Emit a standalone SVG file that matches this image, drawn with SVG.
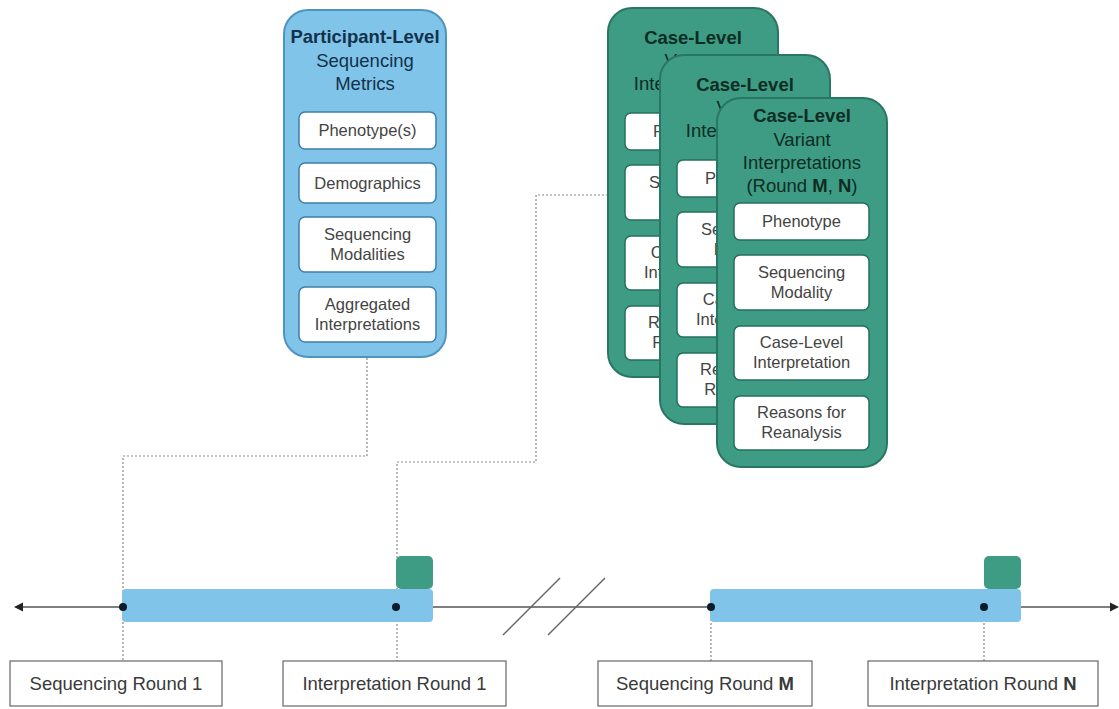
<svg xmlns="http://www.w3.org/2000/svg" width="1119" height="709" viewBox="0 0 1119 709">
  <defs>
    <style>
      .bg { fill: #ffffff; }
      .blueBox { fill: #80c4ea; stroke: #4f94bf; stroke-width: 2; }
      .greenBox { fill: #3d9c83; stroke: #2a7664; stroke-width: 2; }
      .blueItem { fill: #ffffff; stroke: #3f7fa8; stroke-width: 1.5; }
      .greenItem { fill: #ffffff; stroke: #25705d; stroke-width: 1.5; }
      .label { fill: #ffffff; stroke: #666666; stroke-width: 1.2; }
      .bar { fill: #80c4ea; }
      .chip { fill: #3d9c83; }
      .axis { stroke: #555555; stroke-width: 1.5; fill: none; }
      .dotted { stroke: #8a8a8a; stroke-width: 1.2; stroke-dasharray: 2 2; fill: none; }
      .brk { stroke: #666666; stroke-width: 1.5; }
      .dot { fill: #0d1b2a; }
      text { font-family: "Liberation Sans", Arial, sans-serif; text-anchor: middle; }
      .tBlue { font-size: 18.5px; fill: #12324a; }
      .tGreen { font-size: 18.5px; fill: #0d2c24; }
      .b { font-weight: bold; }
      .item { font-size: 16.5px; fill: #444444; }
      .lbl { font-size: 18.5px; fill: #3a3a3a; }
    </style>
    <!-- visible part of a card that sits behind the next one (local card coordinates) -->
    <clipPath id="behindCase2" clipPathUnits="userSpaceOnUse">
      <path clip-rule="evenodd" d="M0,0 H1200 V800 H0 Z M793,145 h122 a24,24 0 0 1 24,24 v321 a24,24 0 0 1 -24,24 h-122 a24,24 0 0 1 -24,-24 v-321 a24,24 0 0 1 24,-24 Z"/>
    </clipPath>
    <clipPath id="behindCase3" clipPathUnits="userSpaceOnUse">
      <path clip-rule="evenodd" d="M0,0 H1200 V800 H0 Z M798,141 h122 a24,24 0 0 1 24,24 v321 a24,24 0 0 1 -24,24 h-122 a24,24 0 0 1 -24,-24 v-321 a24,24 0 0 1 24,-24 Z"/>
    </clipPath>
  </defs>

  <rect class="bg" x="0" y="0" width="1119" height="709"/>

  <!-- dotted leader lines -->
  <g id="connectors">
    <polyline class="dotted" points="367,358 367,456 123,456 123,661"/>
    <polyline class="dotted" points="608,195 536,195 536,462 397,462 397,661"/>
    <line class="dotted" x1="711" y1="607" x2="711" y2="661"/>
    <line class="dotted" x1="984" y1="607" x2="984" y2="661"/>
  </g>

  <!-- timeline axis with a break -->
  <g id="timeline">
    <line class="axis" x1="20" y1="607" x2="123" y2="607"/>
    <path d="M14,607 L23,602.5 L23,611.5 z" fill="#222"/>
    <line class="axis" x1="433" y1="607" x2="711" y2="607"/>
    <line class="axis" x1="1021" y1="607" x2="1112" y2="607"/>
    <path d="M1119,607 L1110,602.5 L1110,611.5 z" fill="#222"/>
    <line class="brk" x1="503" y1="635" x2="560" y2="578"/>
    <line class="brk" x1="548" y1="635" x2="605" y2="578"/>
  </g>

  <g id="round1">
    <rect class="bar" x="122" y="589" width="311" height="33" rx="4"/>
    <rect class="chip" x="396" y="556" width="37" height="33" rx="5"/>
    <circle class="dot" cx="123" cy="607" r="4"/>
    <circle class="dot" cx="396" cy="607" r="4"/>
  </g>

  <g id="roundMN">
    <rect class="bar" x="710" y="589" width="311" height="33" rx="4"/>
    <rect class="chip" x="984" y="556" width="37" height="33" rx="5"/>
    <circle class="dot" cx="711" cy="607" r="4"/>
    <circle class="dot" cx="984" cy="607" r="4"/>
  </g>

  <!-- round labels -->
  <g id="label-seq1">
    <rect class="label" x="10" y="661" width="212" height="45"/>
    <text class="lbl" x="116" y="690">Sequencing Round 1</text>
  </g>
  <g id="label-int1">
    <rect class="label" x="283" y="661" width="223" height="45"/>
    <text class="lbl" x="394.5" y="690">Interpretation Round 1</text>
  </g>
  <g id="label-seqM">
    <rect class="label" x="598" y="661" width="214" height="45"/>
    <text class="lbl" x="705" y="690">Sequencing Round <tspan class="b">M</tspan></text>
  </g>
  <g id="label-intN">
    <rect class="label" x="868" y="661" width="230" height="45"/>
    <text class="lbl" x="983" y="690">Interpretation Round <tspan class="b">N</tspan></text>
  </g>

  <!-- participant-level metrics -->
  <g id="participant">
    <rect class="blueBox" x="284" y="10" width="162" height="347" rx="24"/>
    <text class="tBlue b" x="365" y="43">Participant-Level</text>
    <text class="tBlue" x="365" y="67">Sequencing</text>
    <text class="tBlue" x="365" y="90">Metrics</text>
    <rect class="blueItem" x="299" y="112" width="137" height="37" rx="6"/>
    <text class="item" x="367.5" y="136">Phenotype(s)</text>
    <rect class="blueItem" x="299" y="163" width="137" height="40" rx="6"/>
    <text class="item" x="367.5" y="189">Demographics</text>
    <rect class="blueItem" x="299" y="217" width="137" height="55" rx="6"/>
    <text class="item" x="367.5" y="240">Sequencing</text>
    <text class="item" x="367.5" y="260">Modalities</text>
    <rect class="blueItem" x="299" y="287" width="137" height="55" rx="6"/>
    <text class="item" x="367.5" y="310">Aggregated</text>
    <text class="item" x="367.5" y="330">Interpretations</text>
  </g>

  <!-- stacked case-level cards, back to front -->
  <g id="case1" transform="translate(-109,-90)">
    <rect class="greenBox" x="717" y="98" width="170" height="369" rx="24"/>
    <g clip-path="url(#behindCase2)">
      <text class="tGreen b" x="802" y="134">Case-Level</text>
      <text class="tGreen" x="802" y="157">Variant</text>
      <text class="tGreen" x="802" y="180">Interpretations</text>
      <rect class="greenItem" x="734" y="203" width="135" height="37" rx="6"/>
      <text class="item" x="801.5" y="227">Phenotype</text>
      <rect class="greenItem" x="734" y="255" width="135" height="55" rx="6"/>
      <text class="item" x="801.5" y="278">Sequencing</text>
      <text class="item" x="801.5" y="298">Modality</text>
      <rect class="greenItem" x="734" y="326" width="135" height="54" rx="6"/>
      <text class="item" x="801.5" y="348">Case-Level</text>
      <text class="item" x="801.5" y="368">Interpretation</text>
      <rect class="greenItem" x="734" y="396" width="135" height="54" rx="6"/>
      <text class="item" x="801.5" y="418">Reasons for</text>
      <text class="item" x="801.5" y="438">Reanalysis</text>
    </g>
  </g>

  <g id="case2" transform="translate(-57,-43)">
    <rect class="greenBox" x="717" y="98" width="170" height="369" rx="24"/>
    <g clip-path="url(#behindCase3)">
      <text class="tGreen b" x="802" y="134">Case-Level</text>
      <text class="tGreen" x="802" y="157">Variant</text>
      <text class="tGreen" x="802" y="180">Interpretations</text>
      <rect class="greenItem" x="734" y="203" width="135" height="37" rx="6"/>
      <text class="item" x="801.5" y="227">Phenotype</text>
      <rect class="greenItem" x="734" y="255" width="135" height="55" rx="6"/>
      <text class="item" x="801.5" y="278">Sequencing</text>
      <text class="item" x="801.5" y="298">Modality</text>
      <rect class="greenItem" x="734" y="326" width="135" height="54" rx="6"/>
      <text class="item" x="801.5" y="348">Case-Level</text>
      <text class="item" x="801.5" y="368">Interpretation</text>
      <rect class="greenItem" x="734" y="396" width="135" height="54" rx="6"/>
      <text class="item" x="801.5" y="418">Reasons for</text>
      <text class="item" x="801.5" y="438">Reanalysis</text>
    </g>
  </g>

  <g id="case3">
    <rect class="greenBox" x="717" y="98" width="170" height="369" rx="24"/>
    <text class="tGreen b" x="802" y="122">Case-Level</text>
    <text class="tGreen" x="802" y="146">Variant</text>
    <text class="tGreen" x="802" y="169">Interpretations</text>
    <text class="tGreen" x="802" y="192">(Round <tspan class="b">M</tspan>, <tspan class="b">N</tspan>)</text>
    <rect class="greenItem" x="734" y="203" width="135" height="37" rx="6"/>
    <text class="item" x="801.5" y="227">Phenotype</text>
    <rect class="greenItem" x="734" y="255" width="135" height="55" rx="6"/>
    <text class="item" x="801.5" y="278">Sequencing</text>
    <text class="item" x="801.5" y="298">Modality</text>
    <rect class="greenItem" x="734" y="326" width="135" height="54" rx="6"/>
    <text class="item" x="801.5" y="348">Case-Level</text>
    <text class="item" x="801.5" y="368">Interpretation</text>
    <rect class="greenItem" x="734" y="396" width="135" height="54" rx="6"/>
    <text class="item" x="801.5" y="418">Reasons for</text>
    <text class="item" x="801.5" y="438">Reanalysis</text>
  </g>
</svg>
